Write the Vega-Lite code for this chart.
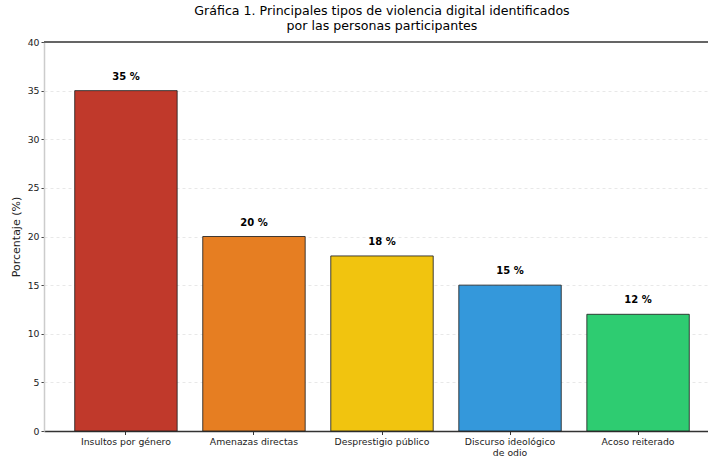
{
  "$schema": "https://vega.github.io/schema/vega-lite/v6.json",
  "autosize": {"type": "none"},
  "padding": {"left": 44, "top": 42, "right": 0, "bottom": 28},
  "width": 676,
  "height": 389,
  "background": "white",
  "title": {
    "text": ["Gráfica 1. Principales tipos de violencia digital identificados", "por las personas participantes"],
    "font": "DejaVu Sans",
    "fontSize": 12.6,
    "fontWeight": "normal",
    "color": "#000000",
    "lineHeight": 15,
    "anchor": "middle",
    "offset": 5
  },
  "config": {
    "view": {"stroke": null},
    "font": "DejaVu Sans",
    "axis": {"labelFont": "DejaVu Sans", "titleFont": "DejaVu Sans"}
  },
  "data": {
    "values": [
      {"tipo": "Insultos por género", "valor": 35, "etiqueta": "35 %"},
      {"tipo": "Amenazas directas", "valor": 20, "etiqueta": "20 %"},
      {"tipo": "Desprestigio público", "valor": 18, "etiqueta": "18 %"},
      {"tipo": "Discurso ideológico de odio", "valor": 15, "etiqueta": "15 %"},
      {"tipo": "Acoso reiterado", "valor": 12, "etiqueta": "12 %"}
    ]
  },
  "layer": [
    {
      "mark": {"type": "bar", "stroke": "#222222", "strokeWidth": 1, "strokeOpacity": 0.85},
      "encoding": {
        "x": {
          "field": "tipo", "type": "nominal", "sort": null,
          "scale": {"paddingInner": 0.2, "paddingOuter": 0.24},
          "axis": {
            "title": null, "labelAngle": 0, "labelFontSize": 9.3, "labelColor": "#222222",
            "labelPadding": 3, "tickSize": 3.5, "tickColor": "#333333", "domainColor": "#333333", "domainWidth": 1.3,
            "labelExpr": "datum.label == 'Discurso ideológico de odio' ? ['Discurso ideológico', 'de odio'] : datum.label",
            "labelLineHeight": 11
          }
        },
        "y": {
          "field": "valor", "type": "quantitative",
          "scale": {"domain": [0, 40], "nice": false},
          "axis": {
            "title": "Porcentaje (%)", "titleFontSize": 11, "titleFontWeight": "normal", "titleColor": "#222222", "titlePadding": 6,
            "values": [0, 5, 10, 15, 20, 25, 30, 35, 40],
            "labelFontSize": 9.3, "labelColor": "#222222", "labelPadding": 2,
            "tickSize": 3, "tickColor": "#444444",
            "domainColor": "#cccccc", "domainWidth": 1.5,
            "grid": true, "gridColor": "#e2e2e2", "gridDash": [3, 3], "gridWidth": 0.8
          }
        },
        "color": {
          "field": "tipo", "type": "nominal", "sort": null, "legend": null,
          "scale": {"domain": ["Insultos por género", "Amenazas directas", "Desprestigio público", "Discurso ideológico de odio", "Acoso reiterado"],
                    "range": ["#c0392b", "#e67e22", "#f1c40f", "#3498db", "#2ecc71"]}
        }
      }
    },
    {
      "mark": {"type": "text", "baseline": "bottom", "dy": -9, "fontSize": 10, "fontWeight": "bold", "color": "#000000"},
      "encoding": {
        "x": {"field": "tipo", "type": "nominal", "sort": null},
        "y": {"field": "valor", "type": "quantitative"},
        "text": {"field": "etiqueta"}
      }
    },
    {
      "mark": {"type": "rule", "color": "#666666", "strokeWidth": 1.3},
      "encoding": {"y": {"datum": 40}}
    }
  ]
}
